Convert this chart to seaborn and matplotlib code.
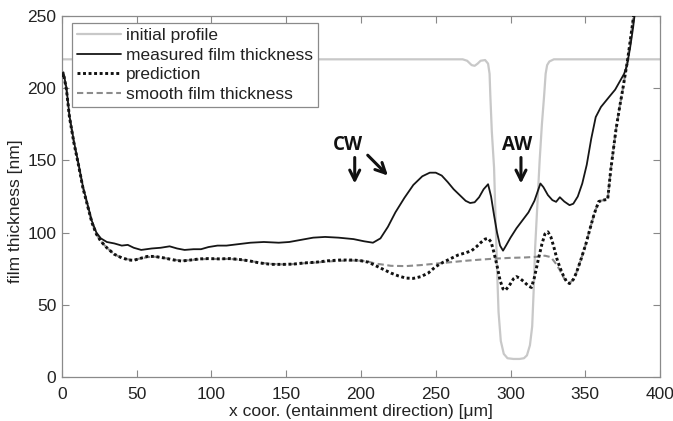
"""
Film thickness along the entrainment direction: initial profile, measured
film thickness, model prediction and smooth film thickness.
"""

import seaborn as sns
import matplotlib.pyplot as plt

# ---------------- data ----------------
initial_x = [0, 268, 271, 274, 276, 278, 280, 283, 285, 286, 286.5, 287.5, 289,
             290, 291, 292, 293.5, 295.5, 298, 302, 306, 309, 311, 313, 314.5,
             315.5, 316.5, 318, 319.5, 321, 322.5, 323.5, 324.5, 326, 329, 400]
initial_y = [220, 220, 219, 216, 215.5, 217, 219, 219.5, 217, 210, 195, 170, 145,
             110, 75, 45, 25, 16, 13, 12.5, 12.5, 13, 15, 22, 35,
             60, 90, 120, 150, 175, 195, 210, 216, 218.5, 220, 220]

measured_x = [0, 1, 3, 5, 8, 11, 14, 17, 20, 23, 26, 30, 35, 40, 44, 48, 53, 60,
              66, 72, 77, 82, 88, 93, 98, 104, 110, 118, 126, 135, 145, 152, 160,
              168, 176, 185, 195, 202, 208, 213, 218, 223, 229, 235, 241, 246,
              250, 254, 258, 262, 266, 270, 273, 276, 279, 282, 285, 287, 289,
              291, 293, 295, 297, 300, 304, 308, 312, 316, 318, 320, 322, 325,
              328, 330.5, 333, 336, 339.5, 342, 345, 348, 351, 354, 357, 360.5,
              366, 370, 373, 376, 378, 380, 382, 383.5]
measured_y = [210, 211, 200, 181, 163, 148, 132, 120, 108, 100, 96, 93.5, 92.5,
              91, 91.5, 89.5, 88, 89, 89.5, 90.5, 89, 88, 88.5, 88.5, 90, 91, 91,
              92, 93, 93.5, 93, 93.5, 95, 96.5, 97, 96.5, 95.5, 94, 93, 96, 104,
              114, 124, 133, 139, 141.5, 141.5, 139.5, 135, 130, 126, 122, 120.5,
              121, 124.5, 130, 133.5, 125, 112, 100, 91, 87.5, 91, 96.5, 103,
              108.5, 114, 122, 128, 134, 131.5, 126, 122.5, 121.3, 124.5, 121.5,
              119, 120, 125, 134, 147, 165, 180, 187, 194, 199, 204.5, 210, 216,
              228, 242, 255]

prediction_x = [0, 1, 3, 5, 8, 11, 14, 17, 20, 23, 26, 30, 35, 40, 45, 48, 52, 57,
                62, 68, 75, 80, 86, 92, 98, 105, 112, 118, 125, 132, 140, 148, 155,
                162, 170, 178, 186, 195, 200, 205, 210, 215, 220, 225, 230, 235,
                240, 245, 250, 255, 260, 265, 270, 274, 277, 280, 283, 285, 287,
                289, 291, 293, 295, 296.5, 299, 302, 304, 306, 309, 312, 314, 316,
                318.5, 321, 323, 325, 327, 329, 331, 333, 335, 337.5, 339.5, 342,
                344, 347, 350.5, 353, 356, 359, 362, 365, 367, 370.5, 373, 375,
                378.3, 381.7, 383]
prediction_y = [208, 210, 199, 180, 162, 147, 131, 119, 107, 99, 94, 89.5, 85,
                82.5, 81, 80.8, 82, 83.5, 83.5, 82.5, 81, 80.3, 81, 81.8, 82, 81.8,
                82, 81.5, 80.5, 79, 78, 78, 78.2, 79, 79.5, 80.5, 81, 81, 80.5,
                79.5, 77, 74.5, 72, 70, 68.5, 68.3, 69.5, 72, 76.5, 79.5, 82, 84.5,
                86, 87.5, 90, 93, 95.5, 96, 93.6, 86, 77, 67, 61, 60, 63, 68, 69.5,
                68.5, 66, 63, 62, 69, 81, 92, 99, 100.5, 97, 90, 82, 76, 71, 66,
                64.7, 67.5, 72, 81, 92.4, 102, 113, 121.5, 122.5, 123, 143, 171,
                187, 198.7, 219.5, 245, 255]

smooth_x = [0, 1, 3, 5, 8, 11, 14, 17, 20, 23, 26, 30, 35, 40, 45, 48, 52, 57,
            62, 68, 75, 80, 86, 92, 98, 105, 112, 118, 125, 132, 140, 148, 155,
            162, 170, 178, 186, 195, 200, 205, 210, 215, 220, 230, 240, 250, 260,
            270, 280, 290, 300, 310, 318, 323, 327, 330, 333, 336, 339.5, 342,
            344, 347, 350.5, 353, 356, 359, 362, 365, 367, 370.5, 373, 375,
            378.3, 381.7, 383]
smooth_y = [206, 209, 199, 180, 162, 147, 131, 119, 107, 99, 94, 89.5, 85, 82.5,
            81.3, 81, 82, 83, 83.3, 82.5, 81.2, 80.5, 81, 81.5, 81.8, 81.7, 81.8,
            81.3, 80.5, 79.2, 78.3, 78, 78.2, 78.8, 79.3, 80, 80.5, 80.7, 80.5,
            79.8, 78.5, 77.8, 77, 76.8, 77.5, 78.5, 79.5, 80.5, 81.3, 82, 82.5,
            82.8, 83.3, 84, 83, 79, 74, 68, 65, 67.5, 72, 81, 92.4, 102, 113,
            121.5, 122.5, 123, 143, 171, 187, 198.7, 219.5, 245, 255]

series_labels = ["initial profile", "measured film thickness",
                 "prediction", "smooth film thickness"]

# ---------------- style ----------------
sns.set_style("ticks")
plt.rcParams["font.family"] = ["Liberation Sans", "DejaVu Sans"]
plt.rcParams["font.size"] = 12.5

fig, ax = plt.subplots(figsize=(6.73, 4.21), dpi=100)
fig.subplots_adjust(left=0.0921, right=0.9807, bottom=0.1045, top=0.962)

# initial profile (light gray)
sns.lineplot(x=initial_x, y=initial_y, ax=ax, label=series_labels[0],
             color="#c8c8c8", linewidth=1.6, errorbar=None, zorder=2)
# measured film thickness (solid black)
sns.lineplot(x=measured_x, y=measured_y, ax=ax, label=series_labels[1],
             color="#161616", linewidth=1.3, errorbar=None, zorder=5)
# prediction (thick dotted black)
sns.lineplot(x=prediction_x, y=prediction_y, ax=ax, label=series_labels[2],
             color="#111111", linewidth=2.1, linestyle=(0, (1, 0.9)),
             errorbar=None, zorder=4)
# smooth film thickness (gray dashed)
sns.lineplot(x=smooth_x, y=smooth_y, ax=ax, label=series_labels[3],
             color="#8c8c8c", linewidth=1.5, linestyle=(0, (3, 1.7)),
             errorbar=None, zorder=3)

ax.set_xlim(0, 400)
ax.set_ylim(0, 250)
ax.set_xticks(range(0, 401, 50))
ax.set_yticks(range(0, 251, 50))
ax.set_xlabel("x coor. (entainment direction) [\u03bcm]", fontsize=12.5,
              color="#222222", labelpad=1)
ax.set_ylabel("film thickness [nm]", fontsize=12.5, color="#222222")
ax.yaxis.set_label_coords(-0.066, 0.46)

# MATLAB-like box: inward ticks on all sides, gray frame
ax.tick_params(direction="in", top=True, right=True, length=5, width=0.8,
               colors="#888888", labelcolor="#222222", labelsize=12.5)
ax.tick_params(axis="x", pad=7.5)
ax.tick_params(axis="y", pad=4)
for side in ax.spines.values():
    side.set_color("#8a8a8a")
    side.set_linewidth(0.9)

# annotations for CW and AW
ax.text(191, 160.5, "CW", fontsize=13.5, fontweight="bold",
        family=["Open Sans", "DejaVu Sans"], ha="center", va="center",
        color="#111111")
ax.text(304.6, 160.5, "AW", fontsize=13.5, fontweight="bold",
        family=["Open Sans", "DejaVu Sans"], ha="center", va="center",
        color="#111111")
arrow_kw = dict(arrowstyle="->", lw=2.2, color="#111111", mutation_scale=18,
                shrinkA=0, shrinkB=0)
ax.annotate("", xy=(195.8, 134), xytext=(195.8, 152), arrowprops=arrow_kw)
ax.annotate("", xy=(218, 139.5), xytext=(204.5, 153.6), arrowprops=arrow_kw)
ax.annotate("", xy=(307, 134), xytext=(307, 152), arrowprops=arrow_kw)

leg = ax.legend(loc="upper left", bbox_to_anchor=(0.0167, 0.981),
                borderaxespad=0, fontsize=12.5, frameon=True, fancybox=False,
                framealpha=1, edgecolor="#8a8a8a", handlelength=2.5,
                handletextpad=0.3, labelspacing=0.25, borderpad=0.3)
leg.get_frame().set_linewidth(0.9)
for t in leg.get_texts():
    t.set_color("#222222")

plt.savefig("out.png", dpi=100)
print("Plot saved as 'out.png'")
